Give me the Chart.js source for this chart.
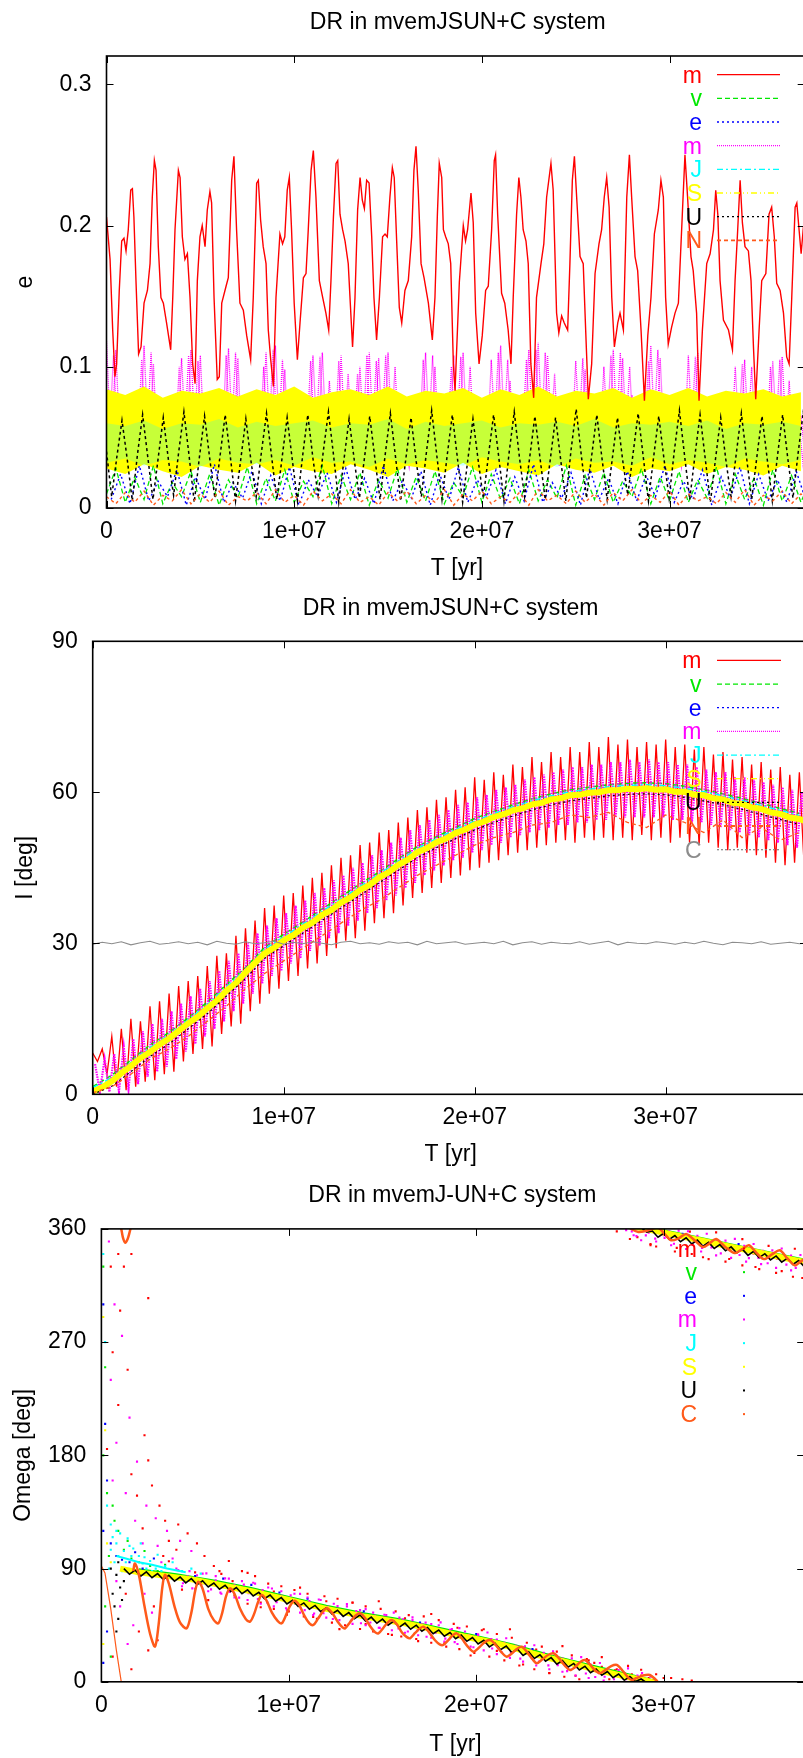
<!DOCTYPE html>
<html>
<head>
<meta charset="utf-8">
<title>DR in mvemJSUN+C system</title>
<script src="https://cdn.jsdelivr.net/npm/chart.js@4.4.1/dist/chart.umd.min.js"></script>
<style>
  html, body { margin: 0; padding: 0; background: #fff; overflow: hidden; }
  #wrap { width: 803px; height: 1758px; overflow: hidden; }
  canvas { display: block; }
</style>
</head>
<body>
<div id="wrap">
  <canvas id="cEcc" width="915" height="586"></canvas>
  <canvas id="cInc" width="915" height="586"></canvas>
  <canvas id="cNode" width="915" height="586"></canvas>
</div>
<script>
/* global Chart */
'use strict';

// ── data (time in Myr) ──────────────────────────────────────────

// tick positions
var X_TICKS = [0, 1e7, 2e7, 3e7];
var E_TICKS = [0, 0.1, 0.2, 0.3];
var I_TICKS = [0, 30, 60, 90];
var W_TICKS = [0, 90, 180, 270, 360];

// panel 1: eccentricity
var E_MERC = [[0,.206],[.19,.176],[.33,.126],[.45,.093],[.54,.102],[.68,.154],[.81,.189],[.93,.191],[1.04,.182],[1.16,.197],[1.29,.225],[1.38,.226],[1.46,.206],[1.57,.161],[1.71,.109],[1.84,.114],[2.0,.145],[2.18,.154],[2.32,.173],[2.44,.22],[2.55,.246],[2.64,.239],[2.76,.185],[2.9,.149],[3.03,.145],[3.2,.131],[3.42,.112],[3.53,.149],[3.65,.197],[3.83,.239],[3.92,.234],[4.04,.192],[4.18,.176],[4.31,.18],[4.45,.149],[4.59,.102],[4.72,.088],[4.84,.161],[4.98,.192],[5.1,.2],[5.25,.185],[5.37,.211],[5.51,.224],[5.6,.216],[5.73,.149],[5.9,.091],[6.01,.093],[6.14,.145],[6.37,.157],[6.49,.163],[6.67,.232],[6.79,.249],[6.93,.197],[7.11,.145],[7.29,.14],[7.47,.122],[7.68,.105],[7.82,.149],[8.0,.23],[8.09,.232],[8.21,.204],[8.35,.185],[8.5,.173],[8.62,.126],[8.75,.105],[8.89,.086],[9.03,.149],[9.24,.194],[9.38,.187],[9.5,.192],[9.63,.225],[9.74,.234],[9.86,.197],[10.0,.145],[10.17,.105],[10.31,.131],[10.49,.163],[10.63,.166],[10.75,.197],[10.9,.239],[11.02,.253],[11.16,.22],[11.34,.161],[11.52,.149],[11.69,.138],[11.84,.126],[11.96,.161],[12.09,.206],[12.23,.244],[12.32,.246],[12.44,.208],[12.58,.197],[12.71,.189],[12.88,.173],[13.11,.114],[13.24,.149],[13.38,.211],[13.51,.234],[13.63,.218],[13.74,.212],[13.86,.232],[13.99,.23],[14.13,.192],[14.25,.149],[14.39,.119],[14.54,.149],[14.71,.192],[14.84,.194],[14.96,.192],[15.1,.22],[15.23,.241],[15.33,.234],[15.46,.189],[15.6,.142],[15.73,.131],[15.9,.154],[16.08,.161],[16.26,.192],[16.38,.239],[16.49,.256],[16.61,.225],[16.76,.173],[16.92,.163],[17.15,.145],[17.36,.119],[17.5,.149],[17.63,.208],[17.73,.244],[17.86,.234],[17.95,.197],[18.07,.192],[18.21,.187],[18.34,.173],[18.48,.102],[18.57,.083],[18.8,.16],[19.01,.2],[19.13,.189],[19.24,.197],[19.42,.223],[19.54,.202],[19.67,.138],[19.85,.102],[20.02,.122],[20.2,.154],[20.34,.157],[20.52,.197],[20.66,.246],[20.73,.25],[20.84,.208],[21.05,.152],[21.22,.145],[21.4,.126],[21.55,.102],[21.67,.149],[21.85,.208],[21.97,.234],[22.08,.22],[22.2,.197],[22.35,.189],[22.47,.173],[22.61,.102],[22.76,.078],[22.91,.149],[23.15,.173],[23.3,.187],[23.45,.22],[23.68,.244],[23.8,.225],[23.98,.138],[24.1,.124],[24.25,.136],[24.39,.131],[24.57,.126],[24.69,.173],[24.82,.232],[24.93,.249],[25.05,.22],[25.23,.178],[25.4,.173],[25.53,.126],[25.67,.077],[25.85,.102],[26.03,.166],[26.24,.187],[26.38,.197],[26.52,.22],[26.65,.234],[26.78,.213],[26.92,.149],[27.06,.114],[27.24,.131],[27.36,.138],[27.54,.126],[27.72,.22],[27.86,.25],[27.98,.22],[28.16,.178],[28.3,.168],[28.48,.126],[28.66,.076],[28.84,.122],[29.01,.149],[29.19,.194],[29.4,.211],[29.54,.232],[29.67,.22],[29.79,.149],[29.93,.116],[30.11,.128],[30.29,.138],[30.47,.145],[30.68,.208],[30.82,.25],[30.96,.22],[31.14,.178],[31.26,.168],[31.44,.138],[31.57,.076],[31.75,.126],[31.98,.173],[32.16,.18],[32.34,.197],[32.46,.225],[32.57,.208],[32.69,.161],[32.87,.133],[33.14,.126],[33.35,.112],[33.49,.161],[33.63,.197],[33.76,.232],[33.88,.202],[34.02,.185],[34.2,.182],[34.34,.161],[34.47,.114],[34.59,.077],[34.77,.126],[34.91,.161],[35.13,.166],[35.3,.208],[35.44,.213],[35.58,.192],[35.71,.159],[35.89,.154],[36.07,.138],[36.24,.107],[36.37,.102],[36.51,.149],[36.69,.213],[36.78,.216],[36.9,.197],[37.01,.18],[37.12,.197],[37.5,.185]];
// every 0.25 Myr from 0
var E_MARS = [.118,.04,.112,.035,.068,.03,.066,.035,.115,.04,.102,.03,.064,.028,.066,.04,.106,.038,.112,.04,.108,.032,.066,.03,.07,.04,.113,.04,.106,.03,.064,.03,.068,.04,.11,.038,.115,.04,.098,.03,.066,.03,.07,.04,.108,.04,.11,.035,.07,.04,.108,.036,.068,.03,.1,.04,.11,.04,.106,.038,.11,.035,.068,.03,.066,.03,.07,.04,.11,.04,.1,.03,.072,.04,.108,.04,.11,.036,.075,.03,.066,.03,.105,.04,.115,.04,.09,.03,.07,.04,.112,.04,.117,.04,.108,.035,.068,.03,.066,.03,.104,.04,.098,.03,.066,.03,.1,.04,.112,.04,.106,.036,.08,.03,.07,.04,.115,.04,.106,.035,.068,.03,.066,.03,.108,.04,.11,.035,.066,.03,.064,.03,.066,.03,.1,.04,.105,.038,.07,.03,.066,.04,.104,.04,.107,.038,.07,.03,.066,.03,.068];
// every 0.25 Myr from 0.125
var E_MARS_B = [.045,.108,.04,.062,.03,.06,.03,.105,.04,.11,.035,.06,.03,.062,.035,.1,.04,.108,.04,.104,.038,.065,.03,.06,.035,.108,.04,.11,.038,.062,.03,.06,.035,.1,.04,.112,.04,.105,.035,.06,.03,.062,.035,.104,.04,.107,.04,.09,.035,.104,.04,.095,.035,.095,.04,.108,.04,.104,.04,.108,.04,.1,.03,.06,.03,.062,.035,.105,.04,.108,.035,.065,.035,.1,.04,.107,.04,.1,.03,.06,.03,.065,.04,.11,.04,.105,.035,.065,.04,.105,.04,.112,.04,.11,.04,.095,.03,.062,.03,.065,.04,.106,.035,.06,.03,.065,.04,.108,.04,.11,.04,.1,.035,.062,.03,.104,.04,.112,.04,.07,.03,.06,.03,.065,.04,.107,.04,.065,.03,.06,.03,.062,.03,.065,.04,.102,.04,.1,.035,.06,.03,.1,.04,.105,.04,.09,.03,.062,.03,.06];
// every 0.5 Myr from 0
var E_VEN = [.01,.028,.004,.022,.006,.03,.003,.018,.008,.026,.004,.024,.002,.02,.007,.029,.003,.021,.005,.027,.004,.019,.008,.03,.003,.023,.006,.025,.002,.02,.007,.028,.004,.022,.005,.026,.003,.018,.008,.029,.004,.024,.006,.021,.003,.027,.005,.02,.007,.03,.002,.023,.006,.025,.004,.019,.008,.028,.003,.022,.005,.026,.004,.02,.007,.029,.003,.024,.006,.021,.002,.027,.005,.023,.004,.02];
// every 0.5 Myr from 0.25
var E_EAR = [.006,.024,.003,.03,.005,.019,.008,.027,.002,.022,.006,.031,.004,.018,.007,.026,.003,.023,.005,.029,.002,.02,.008,.025,.004,.028,.006,.021,.003,.03,.005,.019,.007,.026,.002,.024,.006,.029,.004,.02,.008,.027,.003,.022,.005,.031,.004,.018,.007,.025,.002,.028,.006,.021,.003,.026,.005,.023,.008,.03,.004,.019,.006,.027,.002,.022,.007,.029,.003,.024,.005,.02,.004,.026,.006];
// band edges, every 1 Myr from 0
var E_JUP_LO = [.032,.035,.03,.034,.033,.029,.035,.032,.031,.034,.03,.036,.032,.033,.029,.035,.031,.034,.032,.03,.036,.033,.031,.034,.029,.035,.032,.033,.03,.036,.031,.034,.032,.029,.035,.033,.031,.034];
var E_JUP_HI = [.06,.058,.062,.056,.06,.059,.063,.057,.061,.058,.06,.062,.057,.06,.059,.063,.056,.061,.058,.06,.062,.057,.06,.059,.061,.058,.063,.057,.06,.059,.061,.058,.062,.056,.06,.059,.061,.058];
var E_SAT_LO = [.028,.024,.031,.026,.022,.03,.027,.025,.032,.023,.029,.026,.024,.031,.027,.022,.03,.028,.025,.032,.024,.029,.026,.023,.031,.027,.025,.03,.022,.028,.026,.031,.024,.029,.027,.023,.03,.026];
var E_SAT_HI = [.084,.08,.086,.078,.083,.081,.085,.079,.084,.08,.086,.078,.082,.084,.08,.086,.079,.083,.081,.085,.078,.084,.08,.086,.079,.083,.081,.085,.078,.084,.08,.085,.079,.083,.081,.084,.079,.082];
// every 0.275 Myr from 0
var E_URA = [.04,.008,.036,.062,.035,.005,.038,.066,.036,.006,.035,.064,.034,.009,.04,.068,.037,.004,.036,.065,.035,.007,.037,.066,.036,.005,.034,.063,.033,.008,.039,.067,.036,.006,.035,.064,.034,.005,.037,.066,.035,.009,.04,.068,.037,.004,.034,.063,.034,.007,.036,.065,.035,.006,.038,.067,.036,.005,.035,.064,.033,.008,.04,.069,.037,.006,.037,.066,.035,.004,.034,.063,.034,.007,.037,.066,.036,.005,.039,.068,.036,.008,.036,.065,.035,.006,.035,.064,.034,.005,.041,.07,.037,.007,.037,.066,.035,.006,.035,.064,.034,.009,.038,.067,.036,.005,.036,.065,.035,.007,.04,.069,.037,.006,.037,.066,.035,.004,.035,.064,.034,.008,.038,.067,.036,.006,.036,.065,.035,.005,.037,.066,.035,.007,.039,.068,.036];
// every 0.5 Myr from 0
var E_NEP = [.008,.003,.011,.004,.012,.002,.009,.005,.013,.003,.01,.004,.012,.002,.008,.005,.011,.003,.013,.004,.009,.002,.012,.005,.01,.003,.013,.004,.008,.002,.011,.005,.012,.003,.009,.004,.013,.002,.01,.005,.012,.003,.008,.004,.011,.002,.013,.005,.009,.003,.012,.004,.01,.002,.011,.005,.013,.003,.009,.004,.012,.002,.01,.005,.008,.003,.011,.004,.013,.002,.009,.005,.012,.003,.01,.004];

// panel 2: inclination [deg]
// every 0.25 Myr from 0
var I_MERC = [8.2,6.5,9.0,4.0,11.5,1.5,13.0,0.8,15.0,1.5,14.5,2.5,17.5,2.8,18.5,4.0,20.0,4.5,21.5,6.5,22.5,8.0,23.5,9.0,25.5,9.5,27.5,12.0,28.0,13.5,31.5,14.0,33.0,16.5,34.5,18.0,37.0,20.0,37.5,21.0,39.5,22.5,40.0,23.5,41.5,25.0,43.0,26.0,44.0,27.5,45.5,29.0,47.0,30.5,47.5,31.0,49.5,32.5,50.0,34.0,52.0,35.0,52.5,36.0,54.0,37.5,55.0,39.0,56.5,40.0,57.0,41.0,58.5,42.0,59.0,43.0,60.5,43.5,61.0,44.5,63.0,45.0,62.5,46.0,64.0,46.5,63.5,47.5,65.5,48.0,65.0,48.5,67.0,49.0,66.0,49.5,68.0,50.0,67.0,50.5,69.0,50.0,68.0,51.0,70.0,50.5,69.0,51.0,71.0,50.5,69.5,51.0,70.5,50.5,69.0,51.5,70.0,50.5,69.5,51.0,70.5,50.0,69.0,51.0,69.5,50.0,68.5,49.5,69.0,50.0,67.5,49.0,68.0,48.5,66.5,49.0,67.0,48.0,65.5,47.5,66.0,47.0,64.5,46.0,65.0,45.5,63.5,46.0,64.0,45.5,62.0];
// every 0.25 Myr from 0.125
var I_MARS = [6,0.5,7,0.5,8,0.5,9.5,1,11,2,12.5,3.5,14,4.5,15,5.5,16.5,7,18,8.5,19.5,10,21,11.5,22.5,13,24.5,14.5,26.5,16.5,28,18,30,20,32,22,33.5,23.5,35,24.5,36,26,37.5,27,38.5,28.5,40,29.5,41,31,42.5,32,43.5,33.5,45,34.5,46,36,47.5,37,48.5,38.5,50,39.5,51,41,52.5,42,53.5,43.5,54.5,44.5,55.5,45.5,56.5,46.5,57.5,47,58,48,59,48.5,59.5,49.5,60.5,50,61,51,61.5,51.5,62.5,52,63,52.5,63.5,53,64,53.5,64.5,53.5,65,54,65,54,65.5,54.5,65.5,54.5,66,55,66,55,66.5,55,66,55,66.5,55,66,55,66,54.5,65.5,54.5,65.5,54,65,54,64.5,53.5,64,53,64,52.5,63,52,63,51.5,62.5,51,62,50.5,61.5,50,61,49.5,60.5,49,60,48.5];
// every 0.5 Myr from 0
var I_SAT = [0.5,1.4,2.6,4.2,5.6,7.2,8.4,9.9,11.1,12.6,14.1,15.4,17.1,18.6,20.6,22.1,24.2,26.1,28.0,29.1,30.6,31.6,33.1,34.1,35.6,36.6,38.1,39.1,40.6,41.6,43.1,44.1,45.6,46.6,48.1,48.9,50.1,50.8,51.9,52.6,53.6,54.2,55.1,55.6,56.4,56.8,57.6,57.9,58.6,58.8,59.4,59.5,59.9,60.0,60.4,60.4,60.7,60.6,60.8,60.5,60.6,60.1,60.1,59.5,59.4,58.8,58.6,57.9,57.7,57.0,56.7,56.0,55.7,55.0,54.7,54.0];
// every 1 Myr from 0
var I_VEN = [1.5,3.8,6.8,9.8,12.3,15.2,18.3,21.8,25.2,29.2,31.8,34.2,36.8,39.3,41.8,44.2,46.8,49.2,51.2,53,54.8,56.2,57.5,58.7,59.7,60.5,61,61.5,61.8,61.9,61.7,61.2,60.5,59.7,58.8,57.8,56.8,55.8];
var I_EAR = [0.8,2.8,5.8,8.8,11.3,14.3,17.3,20.8,24.3,28.3,30.8,33.3,35.8,38.3,40.8,43.3,45.8,48.3,50.3,52.1,53.8,55.3,56.6,57.8,58.8,59.6,60.1,60.6,60.9,61,60.8,60.3,59.6,58.8,57.9,56.9,55.9,54.9];
var I_JUP = [1.3,3.3,6.3,9.3,11.8,14.8,17.8,21.3,24.8,28.8,31.3,33.8,36.3,38.8,41.3,43.8,46.3,48.8,50.8,52.6,54.3,55.8,57.1,58.3,59.3,60.1,60.6,61.1,61.4,61.5,61.3,60.8,60.1,59.3,58.4,57.4,56.4,55.4];
var I_URA = [0,1.6,4.5,7.5,10,13,16,19.5,23,27,29.5,32,34.5,37,39.5,42,44.5,47,49,50.8,52.5,54,55.3,56.5,57.5,58.3,58.8,59.3,59.6,59.7,59.5,59,58.3,57.5,56.6,55.6,54.6,53.6];
var I_NEP = [0.3,1.5,4,7,9,11.5,14.5,17.5,21,24,26.5,29,31.5,34,36.5,38.5,41,43.5,45.5,47.5,49.5,51,52,53.5,54,55.5,55,56,54,53,55.5,54,52,54.5,51,53,50.5,52];
// every 0.5 Myr from 0
var I_COMET = [29.8,30.2,29.9,30.3,29.7,30.1,30.4,29.8,30.0,30.3,29.9,30.2,29.7,30.4,30.0,29.8,30.3,29.9,30.1,30.4,29.8,30.2,29.9,30.3,30.0,29.7,30.2,30.4,29.9,30.1,29.8,30.3,30.0,30.2,29.7,30.4,29.9,30.1,30.3,29.8,30.0,30.2,29.9,30.4,29.7,30.1,30.3,29.8,30.2,30.0,29.9,30.3,29.8,30.1,30.4,29.7,30.2,30.0,29.9,30.3,30.1,29.8,30.2,29.9,30.4,30.0,29.7,30.2,30.1,29.9,30.3,29.8,30.0,30.2,29.9,30.1];

// panel 3: longitude of node [deg], null = wrap 0/360
var W_MERC = [[0.9,340],[1.2,330],[1.6,340],[0.5,330],[2.5,305],[1.0,295],[0.6,262],[1.4,248],[0.9,220],[2.3,196],[0.3,185],[1.6,165],[2.5,176],[3.1,140],[2.7,156],[1.9,148],[3.4,128],[2.2,122],[4.1,125],[3.6,112],[4.6,118],[5.1,110],[1.3,70],[2.0,40],[2.5,25],[3.0,33],[1.6,10],[0.6,20],[2.8,60],[3.3,100],[4.0,105],[5.5,100],[6.0,92],[6.3,88],[6.8,96],[7.0,80],[7.5,88],[7.8,62],[8.2,84],[8.5,63],[8.9,78],[9.2,58],[9.6,76],[10.0,56],[10.3,73],[10.8,52],[11.0,70],[11.5,50],[11.9,68],[12.3,47],[12.6,66],[13.0,45],[13.4,63],[13.8,42],[14.1,60],[14.5,40],[14.9,58],[15.3,38],[15.7,56],[16.0,36],[16.4,53],[16.8,34],[17.2,52],[17.6,31],[18.0,49],[18.4,28],[18.8,46],[19.1,26],[19.5,44],[19.9,23],[20.3,41],[20.7,20],[21.1,38],[21.5,17],[21.9,35],[22.3,13],[22.7,31],[23.1,10],[23.5,28],[23.9,7],[24.3,24],[24.7,4],[25.1,21],[25.5,2],[25.9,18],[26.3,15],[26.7,12],[27.1,2],[27.5,10],[27.9,7],[28.3,6],[28.8,5],[29.2,3],[30.0,3],[31.0,2],[27.5,358],[28.2,352],[28.8,358],[29.3,348],[29.6,346],[30.2,358],[30.6,342],[31.1,355],[31.5,340],[32.0,352],[32.4,336],[32.9,349],[33.3,334],[33.8,346],[34.2,331],[34.7,343],[35.1,328],[35.6,340],[36.0,325],[36.5,337],[36.9,322],[37.3,334],
  [3.6,95.8],[4.3,73.3],[5.0,87],[5.7,64.9],[6.4,85.8],[7.1,68.7],[7.8,86.6],[8.5,59.3],[9.2,71.8],[9.9,53.4],[10.6,74.9],[11.3,51.5],[12.0,64],[12.7,41.9],[13.4,62.8],[14.1,45.8],[14.8,64],[15.5,37.3],[16.2,50.4],[16.9,32.3],[17.6,53.9],[18.3,30.5],[19.0,43],[19.7,20.9],[20.4,41.8],[21.1,24.6],[21.8,41.8],[22.5,13.8],[23.2,25.7],[23.9,6.9],[24.6,28.4],[25.3,4.8],[26.0,17],[26.7,19.6],[27.4,9.1],[28.1,12.7],[28.8,9.6],[29.6,6],[30.4,3],[31.5,1],
  [28.6,353.5],[29.3,347.1],[30.0,359],[30.7,344.9],[31.4,357.8],[32.1,337.5],[32.8,357.2],[33.5,336.1],[34.2,351.9],[34.9,329.7],[35.6,346.5],[36.3,326.4],[37.0,344.2],[37.4,321]];
var W_MARS = [[0.4,350],[0.7,300],[1.1,275],[0.5,240],[1.5,210],[0.8,190],[1.9,175],[0.6,160],[1.3,150],[2.4,140],[1.8,128],[2.9,130],[3.5,120],[2.2,110],[3.0,108],[4.2,112],[4.8,104],[1.0,60],[1.7,45],[2.3,70],[1.4,30],[2.7,55],[0.8,80],[3.2,95],[3.8,98],[4.0,90],[4.3,76],[4.7,88],[5.0,74],[5.4,86],[5.7,72],[6.1,84],[6.4,70],[6.8,82],[7.1,67],[7.5,80],[7.8,65],[8.2,78],[8.5,62],[8.9,75],[9.2,60],[9.6,72],[9.9,57],[10.3,70],[10.6,55],[11.0,67],[11.3,53],[11.7,65],[12.0,51],[12.4,62],[12.7,49],[13.1,60],[13.4,46],[13.8,57],[14.1,45],[14.5,55],[14.8,43],[15.2,53],[15.5,41],[15.9,51],[16.2,39],[16.6,49],[16.9,37],[17.3,47],[17.6,35],[18.0,45],[18.3,32],[18.7,42],[19.0,30],[19.4,40],[19.7,28],[20.1,37],[20.4,25],[20.8,34],[21.1,22],[21.5,31],[21.8,19],[22.2,28],[22.5,16],[22.9,25],[23.2,13],[23.6,22],[23.9,10],[24.3,19],[24.6,8],[25.0,16],[25.3,5],[25.7,13],[26.0,3],[26.4,10],[26.8,1],[27.2,7],[27.6,4],[28.0,2],[28.6,3],[28.0,359],[28.4,355],[28.8,351],[29.2,357],[29.6,350],[30.0,355],[30.4,347],[30.8,353],[31.2,344],[31.6,350],[32.0,342],[32.4,348],[32.8,339],[33.2,345],[33.6,337],[34.0,343],[34.4,334],[34.8,340],[35.2,332],[35.6,338],[36.0,329],[36.4,335],[36.8,327],[37.2,333],
  [4.1,88.8],[4.35,78.3],[4.6,83.8],[4.85,74.3],[5.1,84.7],[5.35,77.9],[5.6,86.2],[5.85,73.5],[6.1,80.7],[6.35,70.9],[6.6,82.2],[6.85,71.5],[7.1,76.7],[7.35,66.9],[7.6,77.2],[7.85,70.5],[8.1,78.7],[8.35,65.8],[8.6,72.9],[8.85,63],[9.1,74.2],[9.35,63.2],[9.6,68.4],[9.85,58.5],[10.1,68.7],[10.35,61.8],[10.6,69.9],[10.85,57],[11.1,64.2],[11.35,54.3],[11.6,65.4],[11.85,54.5],[12.1,59.7],[12.35,49.9],[12.6,60.2],[12.85,53.5],[13.1,61.7],[13.35,48.9],[13.6,56.2],[13.85,46.5],[14.1,57.8],[14.35,47.1],[14.6,52.5],[14.85,42.9],[15.1,53.3],[15.35,46.6],[15.6,55],[15.85,42.4],[16.1,49.7],[16.35,40],[16.6,51.2],[16.85,40.5],[17.1,45.7],[17.35,35.8],[17.6,45.9],[17.85,39],[18.1,47.2],[18.35,34.3],[18.6,41.4],[18.85,31.5],[19.1,42.7],[19.35,32],[19.6,37.2],[19.85,27.5],[20.1,37.7],[20.35,31],[20.6,39.2],[20.85,26.5],[21.1,33.6],[21.35,23.6],[21.6,34.6],[21.85,23.6],[22.1,28.6],[22.35,18.4],[22.6,28.3],[22.85,21.2],[23.1,29.1],[23.35,16.1],[23.6,23.1],[23.85,13.1],[24.1,24.2],[24.35,13.3],[24.6,18.4],[24.85,8.5],[25.1,18.6],[25.35,11.6],[25.6,19.6],[25.85,6.6],[26.1,13.7],[26.35,3.8],[26.6,14.9],[26.85,4],[27.1,9.2],[27.35,2],[27.6,9.4],[27.85,2.5],[28.1,10.7],[28.6,4.9],[28.85,7],[29.3,4],
  [28.3,358],[28.55,354.3],[28.8,358.5],[29.05,354.9],[29.3,359],[29.55,352.3],[29.8,359.6],[30.05,352.9],[30.3,358.1],[30.55,348.2],[30.8,358.6],[31.05,351.8],[31.3,358.1],[31.55,347.4],[31.8,354.6],[32.05,344.9],[32.3,356.1],[32.55,345.3],[32.8,350.6],[33.05,340.5],[33.3,350.7],[33.55,343.9],[33.8,352.1],[34.05,339.3],[34.3,346.6],[34.55,336.8],[34.8,348],[35.05,337.2],[35.3,342.5],[35.55,332.7],[35.8,342.9],[36.05,336.1],[36.3,344.4],[36.55,331.6],[36.8,338.8],[37.05,329],[37.3,339.3]];
var W_VEN_PTS = [[0.1,330],[0.2,250],[0.1,180],[0.3,150],[0.6,140],[0.9,120],[1.2,105],[0.4,100],[1.6,98],[2.0,95],[0.2,60],[0.5,20],[2.6,92],[3.0,88],[0.7,128],[1.4,112],[2.3,104],[3.4,93]];
var W_VEN = [[2,89.5],[4,85.5],[6,80.5],[8,74.5],[10,67.5],[12,60.5],[14,54.5],[16,49.5],[18,43],[20,36.5],[22,29.5],[24,21],[26,13.5],[28,6.5],[29.5,1],[29.5,null],[28.5,362.5],[30,359],[32,352.8],[34,346.5],[36,340.3],[37.5,335.7]];
var W_EAR_PTS = [[0.1,300],[0.2,205],[0.3,160],[0.1,120],[0.5,110],[0.8,100],[1.1,97],[1.5,95],[2.2,90],[3.5,85],[0.3,40],[0.1,15],[5,84],[8,77],[11,66],[14,56],[17,47],[20,38],[23,26],[26,15],[31,356],[34,348],[1.8,103],[2.8,98],[6.5,82],[9.5,71]];
var W_JUP_PTS = [[0.1,340],[0.2,270],[0.3,140],[0.5,125],[0.6,115],[0.8,110],[0.9,100],[1.0,118],[1.2,104],[1.3,95],[1.5,108],[1.6,100],[1.8,92],[2.0,100],[2.2,94],[2.4,90],[2.6,96],[2.9,90],[3.2,88],[3.6,85],[4.0,84],[0.4,90],[0.7,95],[0.5,105],[0.8,120],[1.1,88],[1.4,114],[1.7,106],[1.9,86],[2.1,110],[2.3,99],[2.7,88],[3.0,101],[3.4,92],[3.8,95],[4.3,88],[4.8,90],[5.3,86]];
var W_JUP = [[0.8,100],[1.3,98],[2.0,95],[2.7,93],[3.5,90],[4.5,87]];
var W_SAT_PTS = [[0.1,290],[0.2,200],[0.3,110],[0.5,95],[0.1,30]];
var W_SAT = [[1,90],[2,87],[3,85],[4,83],[5,81],[6,78],[7,75],[8,72],[9,68.5],[10,65],[11,61.5],[12,58],[13,55],[14,52],[15,49.5],[16,47],[17,44],[18,40.5],[19,37],[20,34],[21,31],[22,27],[23,22.5],[24,18.5],[25,15],[26,11],[27,7.5],[28,4],[29,1],[29.6,-1],[29.6,null],[28,363],[29,360.1],[30,357],[31,353.9],[32,350.8],[33,347.6],[34,344.5],[35,341.4],[36,338.3],[37,335.2],[37.5,333.7]];
var W_URA_PTS = [[0.6,70],[0.7,60],[0.8,85],[0.9,50],[1.0,75],[1.1,65],[0.5,90],[0.8,40],[1.2,80],[0.9,95]];
// every 0.3 Myr from 1.2, then from 28.8
var W_URA_LOW = [90,85.5,88.7,84,87.4,82.7,86,81.3,84.6,80,83.3,78.6,82,77.2,80.3,75.4,78.5,73.6,76.7,71.8,74.9,70,73.1,68.2,71.1,66,69,64,66.9,61.9,64.8,59.8,62.7,57.7,60.7,55.8,58.8,53.9,56.9,52,55,50.1,53.1,48.2,51.4,46.6,49.8,45,48.2,43.4,46.6,41.8,45,40.2,43.2,38.2,41.2,36.2,39.2,34.2,37.2,32.2,35.2,30.1,33,27.8,30.7,25.5,28.4,23.2,26.1,20.9,23.8,18.6,21.5,16.3,19.2,14,16.9,11.7,14.6,9.4,12.3,7.2,10.2,5.2,8.2,3.2,6.2,1.2,4.2,0.2,2.2,-0.8];
var W_URA_HIGH = [361,357.5,358.3,353.4,356.5,351.6,354.7,349.8,352.9,348,351.1,346.2,349.3,344.4,347.5,342.6,345.7,340.8,343.9,339,342.1,337.2,340.3,335.4,338.5,333.6,336.7,331.8,334.9,330];
var W_COMET_EARLY = [[0,92],[0.19,86.5],[0.5,58],[0.8,25],[1.06,0],[1.09,-4]];
var W_COMET = [[0.98,364],[1.06,360],[1.15,353],[1.27,349],[1.4,352],[1.5,357],[1.58,362],[1.58,null],[1.7,88],[1.79,94],[2.0,85],[2.3,60],[2.6,38],[2.86,28],[3.05,45],[3.25,75],[3.39,85],[3.6,78],[3.9,60],[4.2,47],[4.55,42.5],[4.8,55],[5.0,72],[5.17,79.6],[5.4,74],[5.7,58],[6.0,49],[6.24,46.5],[6.45,55],[6.65,68],[6.86,74.3],[7.1,70],[7.4,58],[7.7,50],[7.93,47.8],[8.15,54],[8.35,63],[8.55,69],[8.8,65],[9.1,55],[9.4,48.5],[9.62,46.5],[9.85,53],[10.05,60],[10.3,64.5],[10.55,61],[10.85,52],[11.1,46.5],[11.31,45.2],[11.55,50],[11.8,55.5],[12.02,58.4],[12.3,55],[12.6,48],[12.85,43.5],[13.0,42.5],[13.25,47],[13.55,52.5],[13.8,54.5],[14.05,51],[14.35,44],[14.6,39.5],[14.78,38.5],[15.05,43],[15.3,47.5],[15.49,49.1],[15.75,46],[16.05,39],[16.3,35.5],[16.47,34.6],[16.75,39],[17.0,42.5],[17.18,43.8],[17.45,40],[17.8,33],[18.05,29.8],[18.24,29.3],[18.5,33],[18.75,37],[18.96,38.5],[19.2,35],[19.55,28],[19.85,23.9],[20.1,26.5],[20.45,31.5],[20.74,33.2],[21.0,30],[21.35,23.5],[21.63,20],[21.9,22.5],[22.2,26.5],[22.43,27.9],[22.7,24],[23.0,18],[23.23,14.7],[23.5,17.5],[23.85,21.5],[24.12,22.7],[24.4,19],[24.75,12.5],[25.0,9.4],[25.3,12],[25.55,15.8],[25.8,17.3],[26.05,14],[26.35,9],[26.6,6.8],[26.9,9.5],[27.2,12.5],[27.5,13.4],[27.8,9],[28.1,3.5],[28.3,1.4],[28.55,3],[28.9,5],[29.27,5.4],[29.55,2],[29.8,-2],[29.8,null],[28.0,363],[28.3,359.7],[28.65,357.5],[29.1,358.5],[29.7,361],[30.05,356],[30.4,351],[30.8,352.5],[31.2,356],[31.65,351],[32.1,345.6],[32.45,348.5],[32.8,352],[33.3,345.5],[33.8,340.8],[34.2,344],[34.55,347],[34.95,341],[35.35,336],[35.8,340],[36.2,343],[36.6,336.5],[37.0,331],[37.3,334],[37.6,337]];

// ── style ───────────────────────────────────────────────────────

var MYR = 1e6;
var W = 915, H = 586, TICK = 7, KEY_DY = 23.66;
var FONT_FAMILY = '"Liberation Sans", Arial, Helvetica, sans-serif';
var FONT_CSS = '23px ' + FONT_FAMILY;
var C_RED = '#ff0000', C_GREEN = '#00e800', C_BLUE = '#0000ff', C_MAG = '#ff00ff',
    C_CYAN = '#00ffff', C_YEL = '#ffff00', C_BLACK = '#000000', C_ORANGE = '#ff5a1a', C_GRAY = '#8c8c8c';

Chart.defaults.font.family = FONT_FAMILY;
Chart.defaults.font.size = 23;
Chart.defaults.color = '#000';

// ── helpers ─────────────────────────────────────────────────────

function onGrid(t0, dt, vals) {
  return vals.map(function (v, i) { return { x: (t0 + i * dt) * MYR, y: v }; });
}
function fromPairs(list) {
  return list.map(function (p) { return { x: p[0] * MYR, y: p[1] }; });
}
function lineDs(label, data, color, width, dash, z, tension) {
  return {
    label: label, data: data, borderColor: color, backgroundColor: color,
    borderWidth: width, borderDash: dash || [], pointRadius: 0, fill: false,
    tension: tension || 0, order: 1000 - z
  };
}
function dotDs(label, data, color, z) {
  return {
    label: label, data: data, showLine: false, pointRadius: 1.5, pointStyle: 'rect',
    pointBorderWidth: 0, pointBackgroundColor: color, borderColor: color,
    backgroundColor: color, order: 1000 - z
  };
}
function bandDs(label, lo, hi, color, z) {
  return [
    { label: label + ' lo', data: lo, borderColor: 'transparent', borderWidth: 0, pointRadius: 0, fill: false, order: 1000 - z },
    { label: label, data: hi, borderColor: 'transparent', borderWidth: 0, pointRadius: 0,
      fill: '-1', backgroundColor: color, order: 1000 - z - 0.5 }
  ];
}

function fmtX(v) {
  return v === 0 ? '0' : Math.round(v / 1e7) + 'e+07';
}

// replace the generated ticks by fixed positions
function fixedTicks(values) {
  return function (scale) {
    scale.ticks = values.map(function (v) { return { value: v }; });
  };
}

function gnuFrame(lay) {
  return {
    id: 'gnuFrame',
    afterDatasetsDraw: function (chart) {
      var ctx = chart.ctx, a = chart.chartArea;
      var xs = chart.scales.x, ys = chart.scales.y;
      ctx.save();
      ctx.strokeStyle = '#000';
      ctx.lineWidth = 1;
      ctx.setLineDash([]);
      ctx.beginPath();
      xs.ticks.forEach(function (t) {
        var px = Math.round(xs.getPixelForValue(t.value)) + 0.5;
        ctx.moveTo(px, a.bottom); ctx.lineTo(px, a.bottom - TICK);
        ctx.moveTo(px, a.top); ctx.lineTo(px, a.top + TICK);
      });
      ys.ticks.forEach(function (t) {
        var py = Math.round(ys.getPixelForValue(t.value)) + 0.5;
        ctx.moveTo(a.left, py); ctx.lineTo(a.left + TICK, py);
        ctx.moveTo(a.right, py); ctx.lineTo(a.right - TICK, py);
      });
      ctx.stroke();
      ctx.lineWidth = 1.6;
      ctx.strokeRect(a.left, a.top, a.right - a.left, a.bottom - a.top);

      ctx.fillStyle = '#000';
      ctx.font = FONT_CSS;
      ctx.textBaseline = 'alphabetic';
      ctx.textAlign = 'center';
      ctx.fillText(lay.title, lay.titleX, lay.titleY);
      ctx.fillText(lay.xTitle, lay.xTitleX, lay.xTitleY);
      ctx.save();
      ctx.translate(lay.yTitleX, (a.top + a.bottom) / 2);
      ctx.rotate(-Math.PI / 2);
      ctx.fillText(lay.yTitle, 0, 0);
      ctx.restore();

      // key: label right-aligned, sample to its right
      lay.key.forEach(function (k, i) {
        var y = lay.keyY + i * KEY_DY;
        ctx.fillStyle = k.color;
        ctx.textAlign = 'right';
        ctx.fillText(k.text, lay.keyX, y);
        if (k.dot) {
          ctx.fillRect(lay.keyDotX, y - 9, 2, 2);
        } else {
          ctx.strokeStyle = k.color;
          ctx.lineWidth = k.width;
          ctx.setLineDash(k.dash);
          ctx.beginPath();
          ctx.moveTo(lay.keyX0, y - 8);
          ctx.lineTo(lay.keyX1, y - 8);
          ctx.stroke();
          ctx.setLineDash([]);
        }
      });
      ctx.restore();
    }
  };
}

function makePanel(id, lay, datasets, yFmt) {
  return new Chart(document.getElementById(id).getContext('2d'), {
    type: 'line',
    data: { datasets: datasets },
    options: {
      responsive: false,
      animation: false,
      events: [],
      layout: { padding: { top: lay.top, right: W - lay.right, bottom: 0, left: 0 } },
      plugins: { legend: { display: false }, tooltip: { enabled: false }, title: { display: false } },
      scales: {
        x: {
          type: 'linear', min: 0, max: lay.xMax, bounds: 'data',
          grid: { display: false, drawTicks: false }, border: { display: false },
          ticks: { padding: 10, maxRotation: 0, autoSkip: false, callback: fmtX },
          afterBuildTicks: fixedTicks(X_TICKS),
          afterFit: function (s) { s.height = H - lay.bottom; }
        },
        y: {
          type: 'linear', min: 0, max: lay.yMax, bounds: 'data',
          grid: { display: false, drawTicks: false }, border: { display: false },
          ticks: { padding: 15, autoSkip: false, callback: yFmt },
          afterBuildTicks: fixedTicks(lay.yTicks),
          afterFit: function (s) { s.width = lay.left; }
        }
      }
    },
    plugins: [gnuFrame(lay)]
  });
}

// ── panel 1: e ──────────────────────────────────────────────────

var KEY_E = [
  { text: 'm', color: C_RED, width: 1.3, dash: [] },
  { text: 'v', color: C_GREEN, width: 1.3, dash: [5, 3] },
  { text: 'e', color: C_BLUE, width: 1.3, dash: [2, 3] },
  { text: 'm', color: C_MAG, width: 1.3, dash: [1, 1] },
  { text: 'J', color: C_CYAN, width: 1.3, dash: [6, 3, 2, 3] },
  { text: 'S', color: C_YEL, width: 1.3, dash: [6, 3, 1, 3, 1, 3] },
  { text: 'U', color: C_BLACK, width: 1.2, dash: [2, 3] },
  { text: 'N', color: C_ORANGE, width: 1.8, dash: [4, 3] }
];

makePanel('cEcc', {
  left: 106.5, right: 804.7, top: 56, bottom: 508, xMax: 37.2e6, yMax: 0.32, yTicks: E_TICKS,
  title: 'DR in mvemJSUN+C system', titleX: 457.7, titleY: 29,
  xTitle: 'T [yr]', xTitleX: 457, xTitleY: 575, yTitle: 'e', yTitleX: 31.5,
  key: KEY_E, keyY: 82.7, keyX: 702, keyX0: 717, keyX1: 780
}, [].concat(
  [
    lineDs('m', onGrid(0, 0.25, E_MARS), C_MAG, 1.3, [1, 1], 1),
    lineDs('m', onGrid(0.125, 0.25, E_MARS_B), C_MAG, 1.3, [1, 1], 1.2)
  ],
  bandDs('S', onGrid(0, 1, E_SAT_LO), onGrid(0, 1, E_SAT_HI), C_YEL, 2),
  bandDs('J', onGrid(0, 1, E_JUP_LO), onGrid(0, 1, E_JUP_HI), 'rgba(0,255,255,0.22)', 3),
  [
    lineDs('m', fromPairs(E_MERC), C_RED, 1.4, [], 4),
    lineDs('v', onGrid(0, 0.5, E_VEN), C_GREEN, 1.3, [5, 3], 5),
    lineDs('e', onGrid(0.25, 0.5, E_EAR), C_BLUE, 1.4, [2, 3], 6),
    lineDs('U', onGrid(0, 0.275, E_URA), C_BLACK, 1.5, [3, 3], 7),
    lineDs('N', onGrid(0, 0.5, E_NEP), C_ORANGE, 1.4, [3, 3], 8)
  ]
), function (v) { return String(Math.round(v * 10) / 10); });

// ── panel 2: I ──────────────────────────────────────────────────

var KEY_I = KEY_E.concat([{ text: 'C', color: C_GRAY, width: 1.3, dash: [2, 2] }]);

makePanel('cInc', {
  left: 92.7, right: 807, top: 55.3, bottom: 508.3, xMax: 37.4e6, yMax: 90, yTicks: I_TICKS,
  title: 'DR in mvemJSUN+C system', titleX: 450.6, titleY: 28.6,
  xTitle: 'T [yr]', xTitleX: 450.6, xTitleY: 575.3, yTitle: 'I [deg]', yTitleX: 31.7,
  key: KEY_I, keyY: 82.4, keyX: 701.5, keyX0: 717, keyX1: 781
}, [
  lineDs('m', onGrid(0, 0.25, I_MERC), C_RED, 1.3, [], 1),
  lineDs('v', onGrid(0, 1, I_VEN), C_GREEN, 1.5, [5, 3], 2),
  lineDs('e', onGrid(0, 1, I_EAR), C_BLUE, 1.5, [2, 3], 3),
  lineDs('m', onGrid(0.125, 0.25, I_MARS), C_MAG, 2.2, [1.5, 1], 4),
  lineDs('J', onGrid(0, 1, I_JUP), C_CYAN, 1.5, [6, 3, 2, 3], 5),
  lineDs('S', onGrid(0, 0.5, I_SAT), C_YEL, 6, [], 6),
  lineDs('U', onGrid(0, 1, I_URA), C_BLACK, 1.2, [2, 3], 7),
  lineDs('N', onGrid(0, 1, I_NEP), C_ORANGE, 1.3, [4, 3], 8),
  lineDs('C', onGrid(0, 0.5, I_COMET), C_GRAY, 1.1, [], 9)
], function (v) { return String(Math.round(v)); });

// ── panel 3: Omega ──────────────────────────────────────────────

var KEY_W = [
  { text: 'm', color: C_RED, dot: true },
  { text: 'v', color: C_GREEN, dot: true },
  { text: 'e', color: C_BLUE, dot: true },
  { text: 'm', color: C_MAG, dot: true },
  { text: 'J', color: C_CYAN, dot: true },
  { text: 'S', color: C_YEL, dot: true },
  { text: 'U', color: C_BLACK, dot: true },
  { text: 'C', color: C_ORANGE, dot: true }
];

var uraData = onGrid(1.2, 0.3, W_URA_LOW)
  .concat([{ x: 29.1 * MYR, y: null }])
  .concat(onGrid(28.8, 0.3, W_URA_HIGH));

makePanel('cNode', {
  left: 101.4, right: 804.2, top: 56.9, bottom: 509.8, xMax: 37.5e6, yMax: 360, yTicks: W_TICKS,
  title: 'DR in mvemJ-UN+C system', titleX: 452.4, titleY: 29.9,
  xTitle: 'T [yr]', xTitleX: 455.5, xTitleY: 579.2, yTitle: 'Omega [deg]', yTitleX: 29.5,
  key: KEY_W, keyY: 84.5, keyX: 697, keyDotX: 743
}, [
  dotDs('m', fromPairs(W_MERC), C_RED, 1),
  dotDs('v', fromPairs(W_VEN_PTS), C_GREEN, 2),
  lineDs('v', fromPairs(W_VEN), C_GREEN, 2, [], 2.5),
  dotDs('e', fromPairs(W_EAR_PTS), C_BLUE, 3),
  dotDs('m', fromPairs(W_MARS), C_MAG, 4),
  dotDs('J', fromPairs(W_JUP_PTS), C_CYAN, 5),
  lineDs('J', fromPairs(W_JUP), C_CYAN, 2, [], 5.5),
  dotDs('S', fromPairs(W_SAT_PTS), C_YEL, 6),
  lineDs('S', fromPairs(W_SAT), C_YEL, 6, [], 6.5),
  dotDs('U', fromPairs(W_URA_PTS), C_BLACK, 7),
  lineDs('U', uraData, C_BLACK, 1.6, [], 7.5),
  lineDs('C', fromPairs(W_COMET_EARLY), C_ORANGE, 1.2, [], 8),
  lineDs('C', fromPairs(W_COMET), C_ORANGE, 2.5, [], 8.5, 0.3)
], function (v) { return String(Math.round(v)); });
</script>
</body>
</html>
